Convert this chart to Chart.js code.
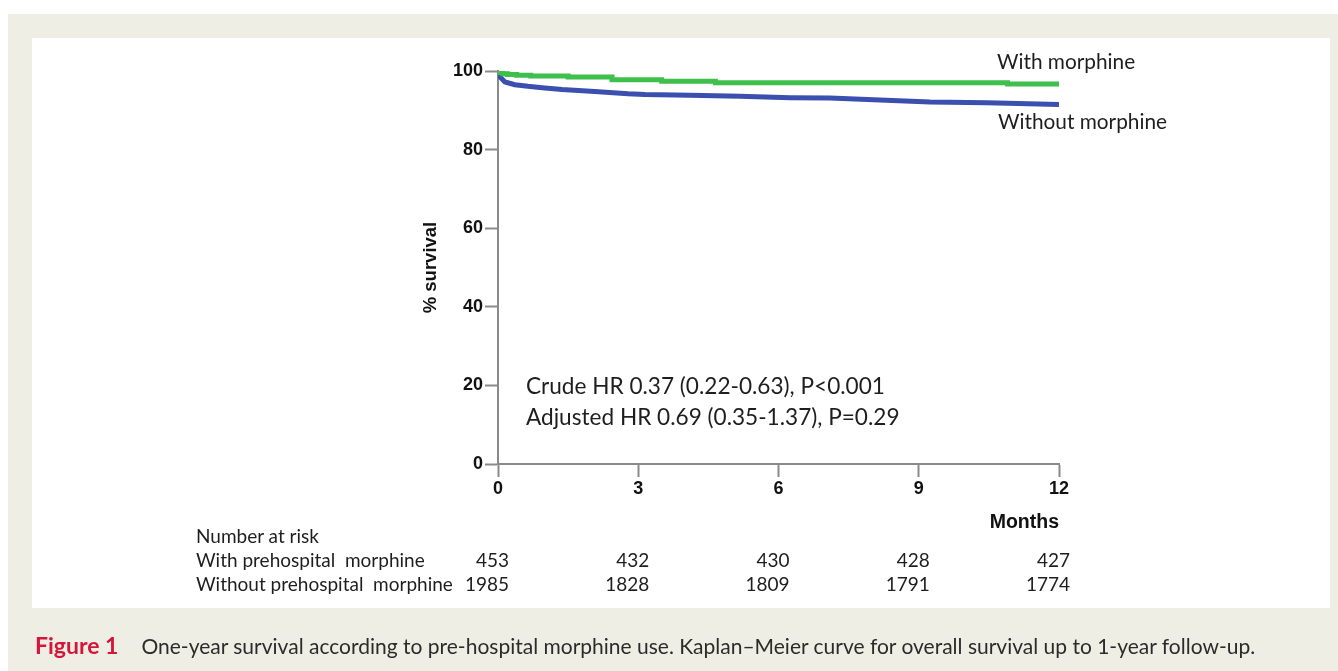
<!DOCTYPE html>
<html>
<head>
<meta charset="utf-8">
<script src="https://cdn.jsdelivr.net/npm/chart.js@4.4.1/dist/chart.umd.min.js"></script>
<style>
  html, body { margin: 0; padding: 0; background: #fff; }
  body { width: 1338px; height: 671px; position: relative; overflow: hidden; font-family: Lato, "Open Sans", sans-serif; }
  #frame { position: absolute; left: 8px; top: 14px; width: 1330px; height: 657px; background: #efeee4; }
  #panel { position: absolute; left: 32px; top: 38px; width: 1298px; height: 570px; background: #fff; }
  #chartBox { position: absolute; left: 0; top: 0; width: 1338px; height: 671px; }
  .txt { position: absolute; white-space: nowrap; color: #1e1e1e; line-height: 1; }
  .lbl { font-size: 20.8px; }
  .hr { font-size: 22.6px; }
  .risk { font-size: 19px; }
  #caption { position: absolute; left: 35px; top: 634px; font-size: 21px; color: #2b2b2b; white-space: nowrap; line-height: 1; }
  #caption b { color: #d4163a; font-size: 23px; margin-right: 23px; }
</style>
</head>
<body>
<div id="frame"></div>
<div id="panel"></div>
<div id="chartBox"><canvas id="km"></canvas></div>

<div class="txt lbl" style="left:997px; top:51px;">With morphine</div>
<div class="txt lbl" style="left:998px; top:111px;">Without morphine</div>
<div class="txt hr" style="left:526px; top:375px;">Crude HR 0.37 (0.22-0.63), P&lt;0.001</div>
<div class="txt hr" style="left:526px; top:406px;">Adjusted HR 0.69 (0.35-1.37), P=0.29</div>

<div class="txt risk" style="left:196px; top:526px;">Number at risk</div>
<div class="txt risk" style="left:196px; top:550px;">With prehospital&nbsp; morphine</div>
<div class="txt risk" style="left:196px; top:574px;">Without prehospital&nbsp; morphine</div>
<div id="riskNums"></div>

<div id="caption"><b>Figure 1</b>One-year survival according to pre-hospital morphine use. Kaplan&ndash;Meier curve for overall survival up to 1-year follow-up.</div>

<script>
// tick values
const monthTicks = [0, 3, 6, 9, 12];
const survivalTicks = [0, 20, 40, 60, 80, 100];

// with morphine (green), KM steps: time in months, % survival
const withTime = [0, 0.04, 0.1, 0.2, 0.4, 0.7, 1.5, 2.44, 3.5, 4.65, 10.9, 12];
const withSurv = [100, 99.6, 99.3, 99.1, 98.9, 98.7, 98.5, 97.8, 97.4, 97.0, 96.7, 96.7];

// without morphine (blue)
const withoutTime = [0, 0.04, 0.15, 0.36, 0.64, 1.0, 1.37, 2.07, 2.78, 3.14, 4.1, 5.18, 6.25, 7.1, 8.17, 9.24, 10.46, 12];
const withoutSurv = [100, 98.5, 97.2, 96.5, 96.1, 95.7, 95.3, 94.8, 94.2, 94.0, 93.8, 93.6, 93.2, 93.1, 92.6, 92.1, 91.9, 91.5];

// number at risk
const atRiskWith = [453, 432, 430, 428, 427];
const atRiskWithout = [1985, 1828, 1809, 1791, 1774];

const axisGray = "#8a8a8a";
const tickFont = { family: "'Liberation Sans', Arial, sans-serif", size: 18, weight: "bold" };

const toPoints = (xs, ys) => xs.map((x, i) => ({ x: x, y: ys[i] }));

const chart = new Chart(document.getElementById("km"), {
  type: "line",
  data: {
    datasets: [
      {
        label: "Without morphine",
        data: toPoints(withoutTime, withoutSurv),
        borderColor: "#3a4fae",
        borderWidth: 5,
        pointRadius: 0,
        tension: 0,
        fill: false,
        order: 2
      },
      {
        label: "With morphine",
        data: toPoints(withTime, withSurv),
        borderColor: "#3fc04c",
        borderWidth: 5,
        pointRadius: 0,
        stepped: true,
        fill: false,
        order: 1
      }
    ]
  },
  options: {
    responsive: true,
    maintainAspectRatio: false,
    animation: false,
    layout: { padding: { left: 418, right: 279, top: 71, bottom: 140 } },
    plugins: { legend: { display: false }, tooltip: { enabled: false } },
    scales: {
      x: {
        type: "linear",
        min: 0,
        max: 12,
        afterBuildTicks: s => { s.ticks = monthTicks.map(v => ({ value: v })); },
        afterFit: s => { s.height = 67; },
        border: { color: axisGray, width: 2 },
        grid: { drawOnChartArea: false, tickLength: 13, tickColor: axisGray, tickWidth: 2 },
        ticks: { font: tickFont, color: "#111", padding: 1, maxRotation: 0 },
        title: {
          display: true,
          text: "Months",
          align: "end",
          color: "#111",
          font: { family: "'Liberation Sans', Arial, sans-serif", size: 19.5, weight: "bold" },
          padding: { top: 0, bottom: -3 }
        }
      },
      y: {
        min: 0,
        max: 100,
        afterBuildTicks: s => { s.ticks = survivalTicks.map(v => ({ value: v })); },
        afterFit: s => { s.width = 80; },
        border: { color: axisGray, width: 2 },
        grid: { drawOnChartArea: false, tickLength: 13, tickColor: axisGray, tickWidth: 2 },
        ticks: { font: tickFont, color: "#111", padding: 2 },
        title: {
          display: true,
          text: "% survival",
          color: "#111",
          font: { family: "'Liberation Sans', Arial, sans-serif", size: 18.5, weight: "bold" },
          padding: { top: 2, bottom: 0 }
        }
      }
    }
  }
});

// number-at-risk rows, placed under the month ticks via the x scale
const riskBox = document.getElementById("riskNums");
function addRiskRow(values, top) {
  values.forEach((v, i) => {
    const px = chart.scales.x.getPixelForValue(monthTicks[i]);
    const el = document.createElement("div");
    el.className = "txt risk";
    el.style.top = top + "px";
    el.style.left = (px + 11) + "px";
    el.style.transform = "translateX(-100%)";
    el.textContent = v;
    riskBox.appendChild(el);
  });
}
addRiskRow(atRiskWith, 550);
addRiskRow(atRiskWithout, 574);
</script>
</body>
</html>
